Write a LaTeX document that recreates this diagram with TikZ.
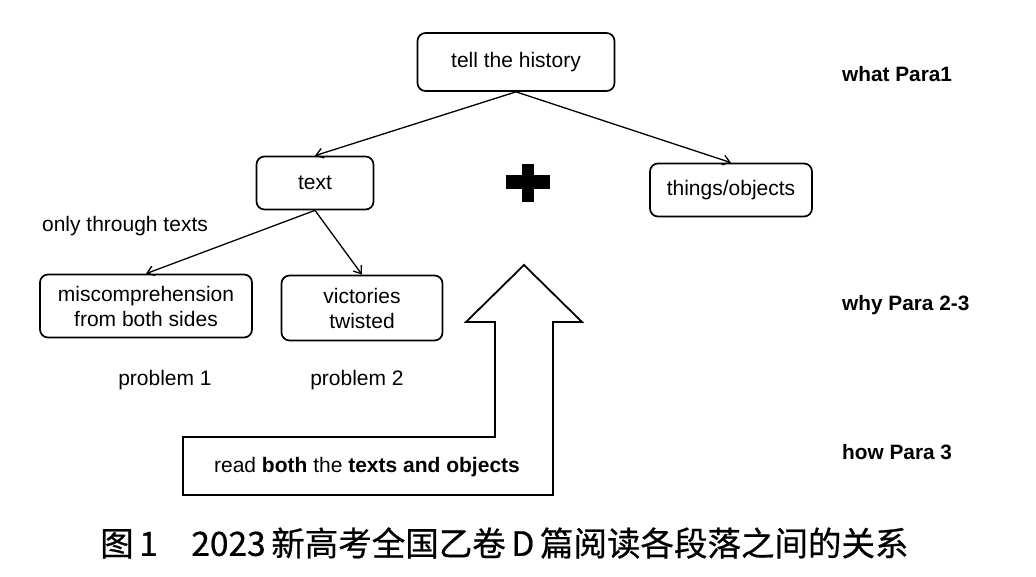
\documentclass[tikz,border=0pt]{standalone}
\usepackage{fontspec}
\setmainfont{Liberation Sans}
\newfontfamily\cjkfont[FakeBold=0.6]{Noto Sans CJK SC}
\usetikzlibrary{arrows.meta}
\begin{document}
\begin{tikzpicture}[x=1pt,y=-1pt,
  box/.style={draw,line width=1.7pt,rounded corners=8pt,align=center,inner sep=0pt,
    font=\fontsize{21}{25}\selectfont},
  lbl/.style={inner sep=0pt,font=\fontsize{21}{25}\selectfont},
  side/.style={inner sep=0pt,anchor=west,font=\fontsize{20.8}{25}\selectfont\bfseries},
  link/.style={line width=1.3pt,-{Straight Barb[length=7pt,width=10pt,line width=1.3pt]}}]
\useasboundingbox (0,0) rectangle (1036,576);
% boxes
\node[box,minimum width=197pt,minimum height=58pt] (tell) at (516,62) {tell the history};
\node[box,minimum width=162pt,minimum height=53pt] (things) at (731,190) {things/objects};
\node[box,minimum width=117pt,minimum height=53pt] (text) at (315,183) {text};
\node[box,minimum width=212pt,minimum height=63pt] (mis) at (146,306) {miscomprehension\\from both sides};
\node[box,minimum width=161pt,minimum height=65pt] (vic) at (362,308) {victories\\twisted};
% labels
\node[lbl] (only) at (125,226) {only through texts};
\node[lbl] (p1) at (165,380) {problem 1};
\node[lbl] (p2) at (357,380) {problem 2};
\node[side] (what) at (842,74) {what Para1};
\node[side] (why) at (842,305) {why Para 2-3};
\node[side] (how) at (842,452) {how Para 3};
% connectors
\draw[link] (tell.south) -- (text.north);
\draw[link] (tell.south) -- (things.north);
\draw[link] (text.south) -- (mis.north);
\draw[link] (text.south) -- (vic.north);
% plus sign
\fill (522,164) rectangle (534,202);
\fill (506,175) rectangle (550,189);
% big bent arrow
\draw[line width=1.8pt,line join=miter]
  (524,265) -- (582,322) -- (553,322) -- (553,495) -- (183,495) -- (183,437)
  -- (495,437) -- (495,322) -- (466,322) -- cycle;
\node[lbl] (read) at (367,467) {read \textbf{both} the \textbf{texts and objects}};
% caption
\node[inner sep=0pt,anchor=west,font=\cjkfont\fontsize{33.5}{38}\selectfont] (cap) at (100,543)
  {图\,1\hspace{1em}2023\,新高考全国乙卷\,D\,篇阅读各段落之间的关系};
\end{tikzpicture}
\end{document}
